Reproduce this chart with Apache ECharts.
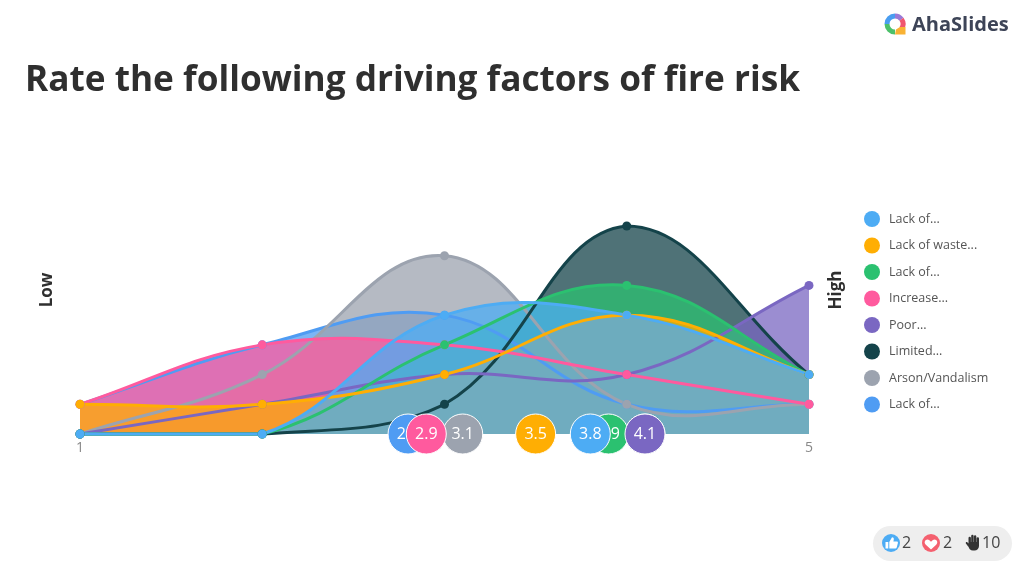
<!DOCTYPE html>
<html>
<head>
<meta charset="utf-8">
<style>
html,body{margin:0;padding:0;background:#fff;}
#chart{width:1024px;height:572px;}
</style>
<script src="https://cdn.jsdelivr.net/npm/echarts@6/dist/echarts.min.js"></script>
</head>
<body>
<div id="chart"></div>
<script>
var scaleTicks = [1, 2, 3, 4, 5];
var legendLabels = ['Lack of...', 'Lack of waste...', 'Lack of...', 'Increase...', 'Poor...', 'Limited...', 'Arson/Vandalism', 'Lack of...'];
var seriesColors = ['#4dacf4', '#ffae03', '#2bc170', '#ff5a9e', '#7a67c2', '#14434a', '#9ca3af', '#4f9cf3'];

// votes per level, same order as the legend
var votes0 = [0, 0, 4, 4, 2];
var votes1 = [1, 1, 2, 4, 2];
var votes2 = [0, 0, 3, 5, 2];
var votes3 = [1, 3, 3, 2, 1];
var votes4 = [0, 1, 2, 2, 5];
var votes5 = [0, 0, 1, 7, 2];
var votes6 = [0, 2, 6, 1, 1];
var votes7 = [1, 3, 4, 1, 1];
var allVotes = [votes0, votes1, votes2, votes3, votes4, votes5, votes6, votes7];

// averages shown in the bubbles
var averages = [3.8, 3.5, 3.9, 2.9, 4.1, 4.1, 3.1, 2.8];
var bubbleOrder = [7, 6, 5, 2, 3, 4, 0, 1];

var tension = 0.4;
var fontName = '"Open Sans", sans-serif';

// small icons in the reactions pill
echarts.graphic.registerShape('thumbIcon', echarts.graphic.extendPath('M885.5 542h2.8v6.5h-2.8z M889.3 548.5v-6.5l2.7-4.8c1.3 0 2 .9 1.8 2.2l-.4 2.1h3.4c.9 0 1.3.7 1.1 1.5l-1.1 4.3c-.2.8-.7 1.2-1.4 1.2z'));
echarts.graphic.registerShape('heartIcon', echarts.graphic.extendPath('M931 549.5l-5.2-4.8c-3-3 .8-7 3.6-4.4l1.6 1.5 1.6-1.5c2.8-2.6 6.6 1.4 3.6 4.4z'));
echarts.graphic.registerShape('handIcon', echarts.graphic.extendPath('M968.5 545V538a1.2 1.2 0 0 1 2.4 0V542H971.2V536a1.2 1.2 0 0 1 2.4 0V542H973.9V536.5a1.2 1.2 0 0 1 2.4 0V542H976.6V538.5a1.2 1.2 0 0 1 2.4 0V546c0 2.5-2 4.5-4.5 4.5H973c-2.5 0-4.5-2-4.5-4.5Z M968.5 547l-2.6-3.6c-.7-1 .8-2 1.6-1l1 1.2z'));

// curve through the points, closed down to the baseline when base is set
echarts.graphic.registerShape('splineShape', echarts.graphic.extendShape({
    shape: { pts: [], cps: [], base: null },
    buildPath: function (ctx, shape) {
        var pts = shape.pts, cps = shape.cps;
        if (!pts.length) return;
        ctx.moveTo(pts[0][0], pts[0][1]);
        for (var j = 1; j < pts.length; j++) {
            ctx.bezierCurveTo(cps[j - 1][2], cps[j - 1][3], cps[j][0], cps[j][1], pts[j][0], pts[j][1]);
        }
        if (shape.base) {
            ctx.lineTo(shape.base[1][0], shape.base[1][1]);
            ctx.lineTo(shape.base[0][0], shape.base[0][1]);
            ctx.closePath();
        }
    }
}));

function clamp(v, a, b) {
    return Math.max(Math.min(a, b), Math.min(v, Math.max(a, b)));
}

// control points of the spline, capped to the plot area
function controlPoints(pts, api) {
    var lo = api.coord([1, 0]), hi = api.coord([5, 7]);
    var cps = [];
    for (var i = 0; i < pts.length; i++) {
        var prev = pts[Math.max(i - 1, 0)], cur = pts[i], next = pts[Math.min(i + 1, pts.length - 1)];
        var d01 = Math.hypot(cur[0] - prev[0], cur[1] - prev[1]);
        var d12 = Math.hypot(next[0] - cur[0], next[1] - cur[1]);
        var s01 = d01 / (d01 + d12), s12 = d12 / (d01 + d12);
        var vx = next[0] - prev[0], vy = next[1] - prev[1];
        cps.push([
            clamp(cur[0] - tension * s01 * vx, lo[0], hi[0]),
            clamp(cur[1] - tension * s01 * vy, lo[1], hi[1]),
            clamp(cur[0] + tension * s12 * vx, lo[0], hi[0]),
            clamp(cur[1] + tension * s12 * vy, lo[1], hi[1])
        ]);
    }
    return cps;
}

function makeSeries(idx) {
    var color = seriesColors[idx], vals = allVotes[idx];
    return {
        type: 'custom',
        name: 's' + idx,
        coordinateSystem: 'cartesian2d',
        clip: false,
        animation: false,
        silent: true,
        itemStyle: { color: color },
        encode: { x: 0, y: 1 },
        data: vals.map(function (v, i) { return [scaleTicks[i], v]; }),
        renderItem: function (params, api) {
            var p = api.coord([api.value(0), api.value(1)]);
            var dot = { type: 'circle', z2: 5, shape: { cx: p[0], cy: p[1], r: 4.5 }, style: { fill: color } };
            if (params.dataIndex !== 0) return dot;
            var pts = vals.map(function (v, i) { return api.coord([scaleTicks[i], v]); });
            var cps = controlPoints(pts, api);
            var base = [api.coord([1, 0]), api.coord([5, 0])];
            return {
                type: 'group',
                children: [
                    { type: 'splineShape', z2: 1, shape: { pts: pts, cps: cps, base: base }, style: { fill: echarts.color.modifyAlpha(color, 0.75), stroke: null } },
                    { type: 'splineShape', z2: 2, shape: { pts: pts, cps: cps, base: null }, style: { fill: null, stroke: color, lineWidth: 3 } },
                    dot
                ]
            };
        }
    };
}

var series = [];
for (var k = allVotes.length - 1; k >= 0; k--) series.push(makeSeries(k));

// one series per bubble so a later bubble also hides the label below it
bubbleOrder.forEach(function (i, n) {
    series.push({
        type: 'scatter',
        name: 'avg' + i,
        z: 10 + n,
        silent: true,
        animation: false,
        symbolSize: 40,
        clip: false,
        itemStyle: { color: seriesColors[i], borderColor: '#fff', borderWidth: 1, opacity: 1 },
        label: { show: true, position: 'inside', color: '#fff', fontSize: 16, fontWeight: 500, fontFamily: fontName, formatter: function (p) { return p.value[0].toFixed(1); } },
        data: [[averages[i], 0]]
    });
});

var reactionText = { fontSize: 16, fontFamily: fontName, fill: '#444' };
var graphics = [
    { type: 'text', x: 25, y: 81, style: { text: 'Rate the following driving factors of fire risk', fontSize: 35.2, fontWeight: 700, fontFamily: fontName, fill: '#2f2f2f', verticalAlign: 'middle' } },
    { type: 'text', x: 47, y: 290, rotation: Math.PI / 2, style: { text: 'Low', fontSize: 17, fontWeight: 700, fontFamily: fontName, fill: '#2f2f2f', align: 'center', verticalAlign: 'middle' } },
    { type: 'text', x: 836, y: 290, rotation: Math.PI / 2, style: { text: 'High', fontSize: 17, fontWeight: 700, fontFamily: fontName, fill: '#2f2f2f', align: 'center', verticalAlign: 'middle' } },
    // logo
    { type: 'sector', shape: { cx: 895, cy: 24, r: 10.5, r0: 5.5, startAngle: Math.PI, endAngle: Math.PI * 1.5 }, style: { fill: '#4a9df0' } },
    { type: 'sector', shape: { cx: 895, cy: 24, r: 10.5, r0: 5.5, startAngle: Math.PI * 1.5, endAngle: Math.PI * 1.8 }, style: { fill: '#9a7ad6' } },
    { type: 'sector', shape: { cx: 895, cy: 24, r: 10.5, r0: 5.5, startAngle: Math.PI * 1.8, endAngle: Math.PI * 2.2 }, style: { fill: '#f0566e' } },
    { type: 'sector', shape: { cx: 895, cy: 24, r: 10.5, r0: 5.5, startAngle: Math.PI * 0.5, endAngle: Math.PI }, style: { fill: '#4cc06a' } },
    { type: 'polygon', shape: { points: [[896, 29.5], [900, 27], [905.5, 27], [905.5, 34.5], [895, 34.5]] }, style: { fill: '#f9b233' } },
    { type: 'text', x: 912, y: 25, style: { text: 'AhaSlides', fontSize: 20, fontWeight: 700, fontFamily: fontName, fill: '#3d4457', verticalAlign: 'middle' } },
    // reactions
    { type: 'rect', shape: { x: 873, y: 526, width: 139, height: 35, r: 17.5 }, style: { fill: '#eeeeee' } },
    { type: 'circle', shape: { cx: 891, cy: 543, r: 9 }, style: { fill: '#4dacf4' } },
    { type: 'thumbIcon', style: { fill: '#fff' } },
    { type: 'text', x: 902, y: 543, style: Object.assign({ text: '2', verticalAlign: 'middle' }, reactionText) },
    { type: 'circle', shape: { cx: 931, cy: 543, r: 9 }, style: { fill: '#f4606f' } },
    { type: 'heartIcon', style: { fill: '#fff' } },
    { type: 'text', x: 943, y: 543, style: Object.assign({ text: '2', verticalAlign: 'middle' }, reactionText) },
    { type: 'handIcon', style: { fill: '#333' } },
    { type: 'text', x: 982, y: 543, style: Object.assign({ text: '10', verticalAlign: 'middle' }, reactionText) }
];

var chart = echarts.init(document.getElementById('chart'), null, { renderer: 'canvas' });
chart.setOption({
    backgroundColor: '#fff',
    animation: false,
    grid: { left: 80, right: 215, top: 226, bottom: 138 },
    xAxis: {
        type: 'value',
        min: 1,
        max: 5,
        interval: 1,
        axisLine: { show: false },
        axisTick: { show: false },
        splitLine: { show: false },
        axisLabel: {
            color: '#888',
            fontSize: 14,
            margin: 7,
            fontFamily: fontName,
            formatter: function (v) { return v === scaleTicks[0] || v === scaleTicks[4] ? String(v) : ''; }
        }
    },
    yAxis: { type: 'value', min: 0, max: 7, show: false },
    legend: {
        orient: 'vertical',
        left: 864,
        top: 211,
        padding: 0,
        icon: 'circle',
        itemWidth: 16,
        itemHeight: 16,
        itemGap: 10.5,
        selectedMode: false,
        data: legendLabels.map(function (l, i) { return 's' + i; }),
        formatter: function (name) { return legendLabels[+name.slice(1)]; },
        textStyle: { color: '#555', fontSize: 12.5, fontFamily: fontName, padding: [0, 0, 0, 4] }
    },
    graphic: graphics,
    series: series
});
</script>
</body>
</html>
